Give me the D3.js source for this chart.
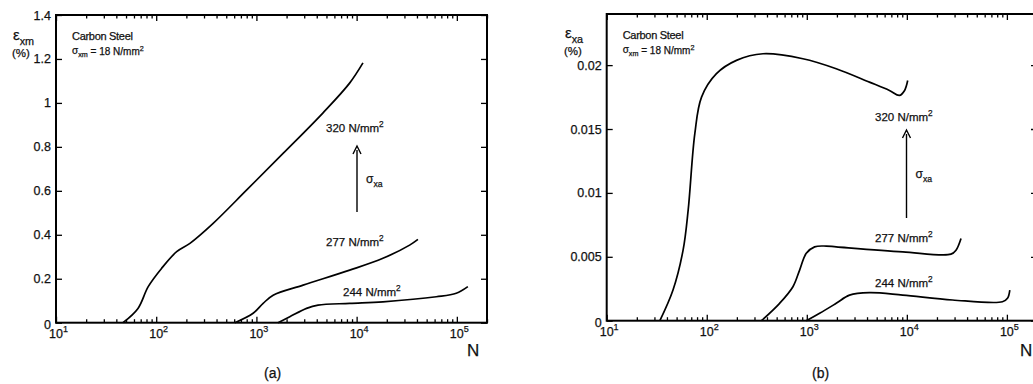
<!DOCTYPE html>
<html>
<head>
<meta charset="utf-8">
<script src="https://cdn.jsdelivr.net/npm/d3@7"></script>
<style>
  body { margin: 0; background: #fff; }
  svg { display: block; font-family: "Liberation Sans", Arial, sans-serif; }
  svg text { fill: #111; stroke: #111; stroke-width: 0.25px; }
</style>
</head>
<body>
<div id="chart"></div>
<script>
// stress amplitude labels, one per curve
const seriesLabels = ["320", "277", "244"];

// (a) mean strain eps_xm (%) vs N
const meanN320 = [46.6, 65.8, 83.2, 113, 160, 217, 370, 796, 1845, 4624, 8510, 11565];
const meanE320 = [0, 0.065, 0.164, 0.247, 0.323, 0.361, 0.452, 0.603, 0.77, 0.955, 1.09, 1.182];
const meanN277 = [610, 927, 1167, 1469, 2924, 8530, 18300, 33800, 40900];
const meanE277 = [0, 0.043, 0.088, 0.125, 0.171, 0.239, 0.293, 0.353, 0.379];
const meanN244 = [1644, 2153, 3165, 4125, 8530, 18300, 62400, 98700, 128800];
const meanE244 = [0, 0.027, 0.065, 0.08, 0.088, 0.095, 0.118, 0.134, 0.164];

// (b) strain amplitude eps_xa (%) vs N
const ampN320 = [34, 46, 58, 65.2, 76, 88.7, 125, 198, 365, 914, 1968, 4227, 6700, 8430, 9460, 10200];
const ampE320 = [0, 0.0024, 0.00552, 0.00865, 0.01464, 0.0175, 0.01933, 0.02037, 0.02089, 0.0205, 0.01972, 0.01867, 0.01802, 0.01763, 0.018, 0.0188];
const ampN277 = [352, 535, 727, 848, 988, 1197, 1567, 1968, 9100, 27600, 31000, 34800];
const ampE277 = [0, 0.00136, 0.00266, 0.00396, 0.00527, 0.00578, 0.00584, 0.00578, 0.00539, 0.00521, 0.00552, 0.00644];
const ampN244 = [988, 1343, 1968, 2673, 4227, 9100, 28600, 90300, 101400, 107000];
const ampE244 = [0, 0.00058, 0.00136, 0.002, 0.00219, 0.002, 0.00162, 0.00148, 0.00175, 0.0024];

const xTicks = [10, 100, 1000, 10000, 100000];
const meanTicks = [0, 0.2, 0.4, 0.6, 0.8, 1, 1.2, 1.4];
const ampTicks = [0, 0.005, 0.01, 0.015, 0.02];

const W = 1033, H = 384;
const svg = d3.select("#chart").append("svg").attr("width", W).attr("height", H);

const zip = (xs, ys) => xs.map((v, i) => [v, ys[i]]);

function supText(g, x, y, parts, opts) {
  const t = g.append("text").attr("x", x).attr("y", y)
    .attr("font-size", opts.size).attr("text-anchor", opts.anchor || "start");
  parts.forEach(p => {
    const ts = t.append("tspan").text(p.t);
    if (p.sup) ts.attr("font-size", opts.size * 0.72).attr("dy", -opts.size * 0.42);
    if (p.sub) ts.attr("font-size", opts.size * 0.72).attr("dy", opts.size * 0.3);
    if (p.back) ts.attr("dy", p.back);
  });
  return t;
}

function panel(cfg) {
  const g = svg.append("g");
  const x = d3.scaleLog().domain([10, 2e5]).range([cfg.left, cfg.right]);
  const y = d3.scaleLinear().domain(cfg.yDomain).range([cfg.bottom, cfg.top]);

  const minor = [];
  for (let d = 10; d < 2e5; d *= 10)
    for (let k = 2; k <= 9; k++) if (d * k <= 2e5) minor.push(d * k);

  const tickStyle = sel => {
    sel.select(".domain").remove();
    sel.selectAll("line").attr("stroke", "#000").attr("stroke-width", 1.3);
  };

  g.append("g").attr("transform", `translate(0,${cfg.bottom})`)
    .call(d3.axisBottom(x).tickValues(xTicks).tickSize(-6).tickFormat("")).call(tickStyle);
  g.append("g").attr("transform", `translate(0,${cfg.bottom})`)
    .call(d3.axisBottom(x).tickValues(minor).tickSize(-3.5).tickFormat("")).call(tickStyle);
  g.append("g").attr("transform", `translate(0,${cfg.top})`)
    .call(d3.axisTop(x).tickValues(xTicks).tickSize(-6).tickFormat("")).call(tickStyle);
  g.append("g").attr("transform", `translate(0,${cfg.top})`)
    .call(d3.axisTop(x).tickValues(minor).tickSize(-3.5).tickFormat("")).call(tickStyle);
  g.append("g").attr("transform", `translate(${cfg.left},0)`)
    .call(d3.axisLeft(y).tickValues(cfg.yTicks).tickSize(-6).tickFormat("")).call(tickStyle);
  g.append("g").attr("transform", `translate(${cfg.right},0)`)
    .call(d3.axisRight(y).tickValues(cfg.yTicks).tickSize(-6).tickFormat("")).call(tickStyle);

  g.append("rect").attr("x", cfg.left).attr("y", cfg.top)
    .attr("width", cfg.right - cfg.left).attr("height", cfg.bottom - cfg.top)
    .attr("fill", "none").attr("stroke", "#000").attr("stroke-width", 2);

  // y tick labels
  cfg.yTicks.forEach(v => {
    g.append("text").attr("x", cfg.left - 5).attr("y", y(v) + (v === 0 ? 6 : 4.5))
      .attr("text-anchor", "end").attr("font-size", 12.5).text(cfg.yFmt(v));
  });
  // x tick labels 10^n
  xTicks.forEach(v => {
    const e = Math.round(Math.log10(v));
    supText(g, x(v) - 7, cfg.bottom + 15, [{t: "10"}, {t: String(e), sup: true}], {size: 12.5});
  });

  g.append("text").attr("x", cfg.nX).attr("y", 356).attr("font-size", 17).text("N");
  g.append("text").attr("x", cfg.tagX).attr("y", 378).attr("font-size", 14).text(cfg.tag);

  // y label
  supText(g, cfg.yLabX, cfg.yLabY, [{t: "ε"}, {t: cfg.sub, sub: true}], {size: 15});
  g.append("text").attr("x", cfg.yLabX - 1).attr("y", cfg.yLabY + 17).attr("font-size", 11.5).text("(%)");

  // title block
  g.append("text").attr("x", cfg.left + 16).attr("y", cfg.top + 25)
    .attr("font-size", 11).attr("letter-spacing", -0.3).text("Carbon Steel");
  supText(g, cfg.left + 16, cfg.top + 39,
    [{t: "σ"}, {t: "xm", sub: true}, {t: " = 18 N/mm", back: -2.2}, {t: "2", sup: true}],
    {size: 10});

  const line = d3.line().x(d => x(d[0])).y(d => y(d[1])).curve(d3.curveCatmullRom.alpha(0.5));
  cfg.curves.forEach(c => {
    g.append("path").datum(c).attr("d", line)
      .attr("fill", "none").attr("stroke", "#000").attr("stroke-width", 1.7);
  });

  cfg.labels.forEach((p, i) => {
    supText(g, p[0], p[1], [{t: seriesLabels[i] + " N/mm"}, {t: "2", sup: true}], {size: 11.5});
  });

  // arrow for sigma_xa
  g.append("line").attr("x1", cfg.arrow[0]).attr("x2", cfg.arrow[0])
    .attr("y1", cfg.arrow[1]).attr("y2", cfg.arrow[2] + 4)
    .attr("stroke", "#000").attr("stroke-width", 1.4);
  g.append("path")
    .attr("d", `M${cfg.arrow[0] - 4},${cfg.arrow[2] + 8} L${cfg.arrow[0]},${cfg.arrow[2]} L${cfg.arrow[0] + 4},${cfg.arrow[2] + 8}`)
    .attr("fill", "none").attr("stroke", "#000").attr("stroke-width", 1.4);
  supText(g, cfg.arrow[0] + 9, (cfg.arrow[1] + cfg.arrow[2]) / 2 + 4,
    [{t: "σ"}, {t: "xa", sub: true}], {size: 12});
}

panel({
  left: 56, right: 487, top: 15, bottom: 322.7,
  yDomain: [0, 1.4], yTicks: meanTicks, yFmt: d3.format("~g"),
  nX: 467, tagX: 264, tag: "(a)",
  yLabX: 13, yLabY: 40, sub: "xm",
  curves: [zip(meanN320, meanE320), zip(meanN277, meanE277), zip(meanN244, meanE244)],
  labels: [[326, 132], [326, 246], [343, 296]],
  arrow: [357, 212, 146]
});

panel({
  left: 606.7, right: 1037, top: 14, bottom: 320.7,
  yDomain: [0, 0.024], yTicks: ampTicks, yFmt: d3.format("~g"),
  nX: 1020, tagX: 812, tag: "(b)",
  yLabX: 565, yLabY: 38, sub: "xa",
  curves: [zip(ampN320, ampE320), zip(ampN277, ampE277), zip(ampN244, ampE244)],
  labels: [[875, 121], [875, 242], [875, 287]],
  arrow: [906.5, 218, 130]
});
</script>
</body>
</html>
